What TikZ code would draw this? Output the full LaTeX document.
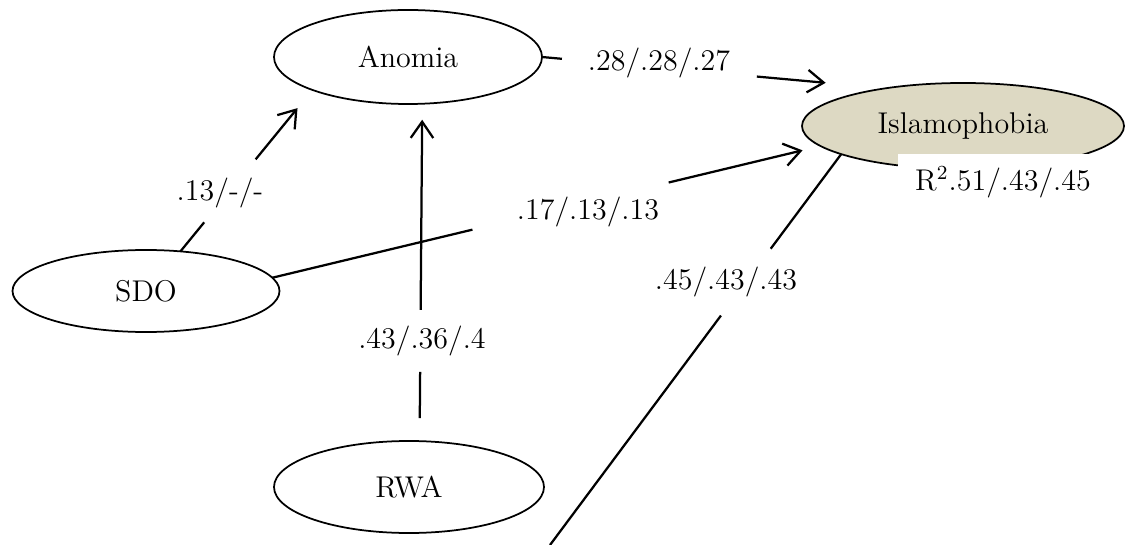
\documentclass[tikz,border=0pt,12pt]{standalone}
\usetikzlibrary{arrows.meta,shapes.geometric}
\definecolor{islamfill}{RGB}{221,217,195}
\tikzset{
    construct/.style = {
        draw,
        ellipse,
        line width=0.7pt,
        inner sep=0pt,
        outer sep=0pt,
        },
    outcome/.style = {
        fill = islamfill,
        },
    path line/.style = {
        line width=0.9pt,
        },
    path arrow/.style = {
        line width=0.9pt,
        -{Straight Barb[length=6.5pt, width=9pt]},
        },
    coef/.style = {
        inner sep=0pt,
        },
    rsq box/.style = {
        fill = white,
        minimum width=84pt,
        minimum height=22.4pt,
        inner sep=0pt,
        },
}

\begin{document}
\begin{tikzpicture}[x=0.4pt, y=-0.4pt]
    \useasboundingbox (0,0) rectangle (1125,545);

    \node [construct, minimum width=107.2pt, minimum height=37.6pt] (anomia) at (408,57) {Anomia};
    \node [construct, outcome, minimum width=128.8pt, minimum height=34.4pt] (islam) at (963,126) {Islamophobia};
    \node [construct, minimum width=106.8pt, minimum height=32.8pt] (sdo) at (146,291) {SDO};
    \node [construct, minimum width=108pt, minimum height=36.8pt] (rwa) at (409,487) {RWA};
    \node [rsq box] (rsq) at (1003,182) {R\textsuperscript{2}.51/.43/.45};

    \coordinate (offpage) at (550,545);

    % where each path breaks for its coefficient
    \path (sdo.49) -- (anomia.199) coordinate[pos=.18] (sa1) coordinate[pos=.57] (sa2);
    \path (rwa.77) -- (anomia.-73) coordinate[pos=.205] (ra1) coordinate[pos=.389] (ra2);
    \path (sdo.6) -- (islam.188) coordinate[pos=.365] (si1) coordinate[pos=.723] (si2);
    \path (anomia.east) -- (islam.154) coordinate[pos=.058] (ai1) coordinate[pos=.625] (ai2);
    \path (islam.193) -- (offpage) coordinate[pos=.242] (io1) coordinate[pos=.413] (io2);

    \draw [path line] (sdo.49) -- (sa1);
    \draw [path arrow, shorten >=9.4pt] (sa2) -- (anomia.199);
    \draw [path line, shorten <=9.2pt] (rwa.77) -- (ra1);
    \draw [path arrow, shorten >=6.4pt] (ra2) -- (anomia.-73);
    \draw [path line] (sdo.6) -- (si1);
    \draw [path arrow, shorten >=7.4pt] (si2) -- (islam.188);
    \draw [path line] (anomia.east) -- (ai1);
    \draw [path arrow, shorten >=24.1pt] (ai2) -- (islam.154);
    \draw [path line] (islam.193) -- (io1);
    \draw [path line] (io2) -- (offpage);

    \node [coef] (c13) at (220,193) {.13/-/-};
    \node [coef] (c43) at (422,341) {.43/.36/.4};
    \node [coef] (c17) at (588,212) {.17/.13/.13};
    \node [coef] (c28) at (659,63) {.28/.28/.27};
    \node [coef] (c45) at (726,282) {.45/.43/.43};
    %\node [coef] at (1003,182) {};
\end{tikzpicture}
\end{document}
